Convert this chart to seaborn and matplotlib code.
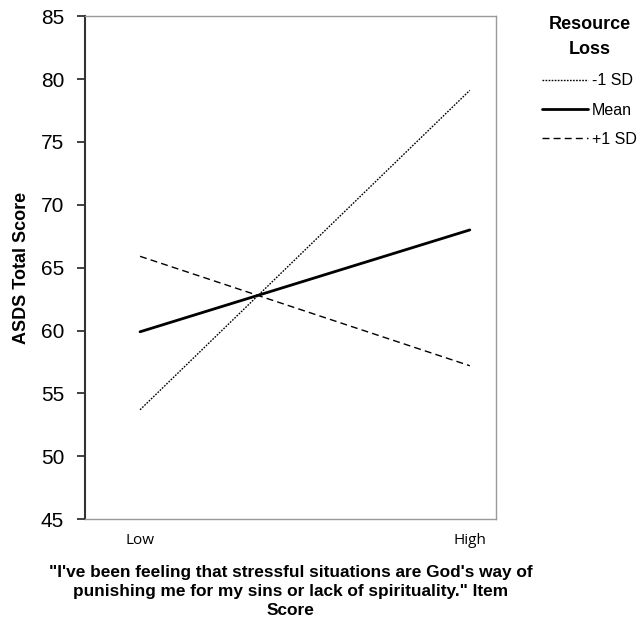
import pandas as pd
import matplotlib.pyplot as plt
import seaborn as sns

# data
levels = ["Low", "High"]
x_pos = [0, 1]
minus_sd = [53.7, 79.1]
mean_vals = [59.9, 68.0]
plus_sd = [65.9, 57.2]
group_names = ["-1 SD", "Mean", "+1 SD"]

df = pd.DataFrame({
    "x": x_pos * 3,
    "score": minus_sd + mean_vals + plus_sd,
    "group": [g for g in group_names for _ in x_pos],
})

sns.set_style("white", {"ytick.left": True, "axes.labelcolor": "black",
                        "text.color": "black", "xtick.color": "black",
                        "ytick.color": "black"})
plt.rcParams['font.family'] = ['Liberation Sans', 'DejaVu Sans']

fig = plt.figure(figsize=(6.39, 6.21), dpi=100)
ax = fig.add_axes([0.133, 0.164, 0.643, 0.810])

styles = {"-1 SD": ((0, (1.2, 1.0)), 1.0), "Mean": ("-", 2.0), "+1 SD": ((0, (5, 3)), 1.0)}
for g in group_names:
    sub = df[df["group"] == g]
    ls, lw = styles[g]
    sns.lineplot(data=sub, x="x", y="score", ax=ax, color="black",
                 linestyle=ls, linewidth=lw, label=g)

ax.set_xlim(-0.167, 1.079)
ax.set_ylim(45, 85)
ax.set_yticks(range(45, 86, 5))
ax.set_yticklabels([str(v) for v in range(45, 86, 5)], fontsize=15)
ax.set_xticks(x_pos)
ax.set_xticklabels(levels, fontsize=11, family=['Open Sans', 'DejaVu Sans'])
ax.tick_params(axis="y", which="major", left=True, length=6, width=1.3,
               color="#333333", direction="out", pad=9)
ax.tick_params(axis="x", length=0, pad=10)

for side in ["top", "right", "bottom"]:
    ax.spines[side].set_color("#999999")
    ax.spines[side].set_linewidth(1.0)
ax.spines["left"].set_color("#333333")
ax.spines["left"].set_linewidth(1.5)

ax.set_ylabel("ASDS Total Score", fontsize=13, fontweight="bold", labelpad=8)
ax.set_xlabel("\"I've been feeling that stressful situations are God's way of\n"
              "punishing me for my sins or lack of spirituality.\" Item\nScore",
              fontsize=12.4, fontweight="bold", labelpad=12, linespacing=1.35)

leg = ax.legend(title="Resource\nLoss", loc="upper left", bbox_to_anchor=(1.112, 1.0),
                borderaxespad=0, borderpad=0, frameon=False, fontsize=11.5,
                handlelength=2.9, handletextpad=0.25, labelspacing=0.9)
leg.get_title().set_fontweight("bold")
leg.get_title().set_fontsize(13)
leg.get_title().set_multialignment("center")
leg.get_title().set_linespacing(1.6)
leg._legend_box.sep = 11

plt.savefig("out.png", dpi=100)
